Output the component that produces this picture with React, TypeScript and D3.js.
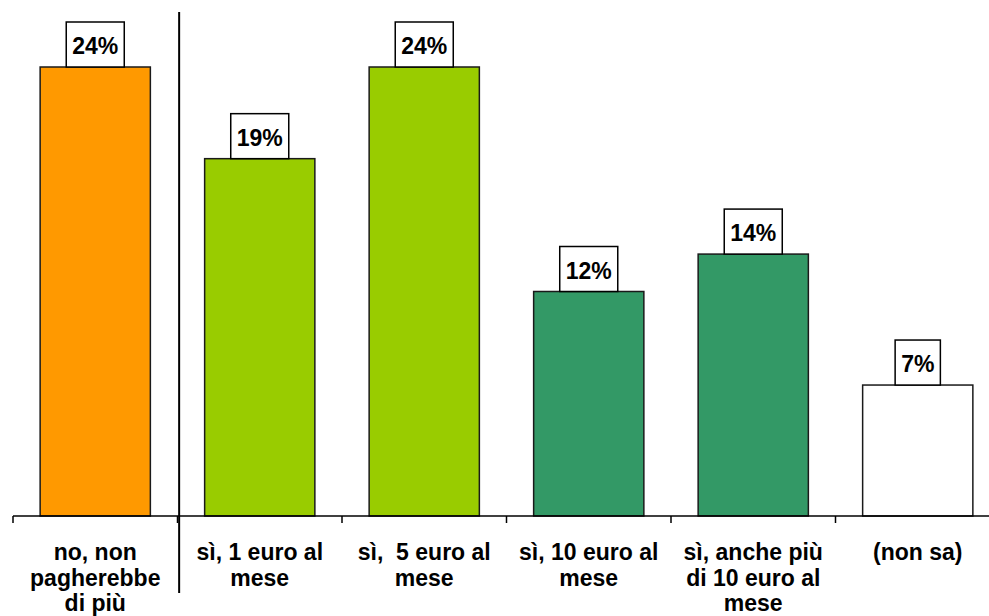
import React from "react";
import * as d3 from "d3";

const categories: string[][] = [
  ["no, non", "pagherebbe", "di più"],
  ["sì, 1 euro al", "mese"],
  ["sì,  5 euro al", "mese"],
  ["sì, 10 euro al", "mese"],
  ["sì, anche più", "di 10 euro al", "mese"],
  ["(non sa)"],
];
const values: number[] = [24, 19.1, 24, 12, 14, 7];
const valueLabels: string[] = ["24%", "19%", "24%", "12%", "14%", "7%"];
const colors: string[] = ["#FF9900", "#99CC00", "#99CC00", "#339966", "#339966", "#FFFFFF"];

const W = 989;
const H = 616;
const FONT = "Arial, 'Liberation Sans', Helvetica, sans-serif";

export default function App() {
  const x = d3
    .scaleBand<number>()
    .domain(d3.range(categories.length))
    .range([13, 1000])
    .paddingInner(0.33)
    .paddingOuter(0.165);
  const step = x.step();
  const x0 = 13;
  const y = d3.scaleLinear().domain([0, 24]).range([516, 67]);
  const fs = 23;
  const charW = (s: string) => {
    let w = 0;
    for (const c of s) w += c === "%" ? 0.889 : 0.556;
    return w * fs;
  };

  return (
    <svg
      width={W}
      height={H}
      style={{ position: "absolute", left: 0, top: 0, background: "#fff" }}
      fontFamily={FONT}
    >
      {values.map((v, i) => {
        const bx = x(i)!;
        const bw = x.bandwidth();
        const top = y(v);
        const tw = charW(valueLabels[i]) + 12;
        const cx = bx + bw / 2;
        return (
          <g key={i}>
            <rect
              x={bx}
              y={top}
              width={bw}
              height={y(0) - top}
              fill={colors[i]}
              stroke="#1a1a1a"
              strokeWidth={1.5}
            />
            <rect
              x={cx - tw / 2}
              y={top - 45}
              width={tw}
              height={45}
              fill="#fff"
              stroke="#000"
              strokeWidth={1.5}
            />
            <text
              x={cx}
              y={top - 13}
              textAnchor="middle"
              fontWeight="bold"
              fontSize={fs}
              fill="#000"
            >
              {valueLabels[i]}
            </text>
          </g>
        );
      })}
      <line x1={x0} x2={W} y1={y(0)} y2={y(0)} stroke="#000" strokeWidth={1.5} />
      {d3.range(categories.length + 1).map((i) => (
        <line
          key={i}
          x1={x0 + i * step}
          x2={x0 + i * step}
          y1={y(0)}
          y2={y(0) + 7}
          stroke="#000"
          strokeWidth={1.5}
        />
      ))}
      <line x1={x0 + step * 1.01} x2={x0 + step * 1.01} y1={12} y2={593} stroke="#000" strokeWidth={2} />
      {categories.map((lines, i) => (
        <text
          key={i}
          x={x0 + (i + 0.5) * step}
          textAnchor="middle"
          fontWeight="bold"
          fontSize={fs}
          fill="#000"
        >
          {lines.map((l, j) => (
            <tspan key={j} x={x0 + (i + 0.5) * step} y={560 + j * 25.5} style={{ whiteSpace: "pre" }}>
              {l}
            </tspan>
          ))}
        </text>
      ))}
    </svg>
  );
}
